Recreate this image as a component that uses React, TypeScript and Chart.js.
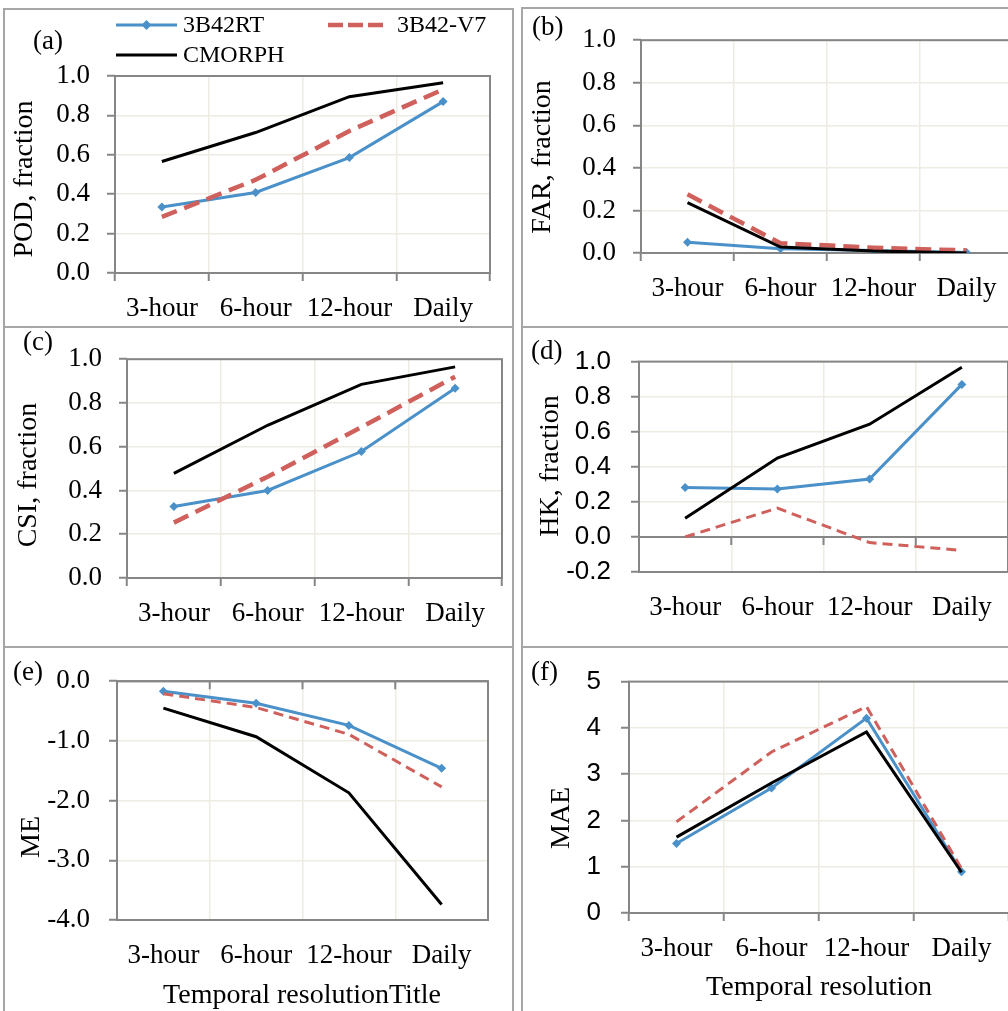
import React, { useEffect, useRef } from 'react';
import { Chart, registerables } from 'chart.js';

Chart.register(...registerables);

// ---------- data ----------
const categories = ['3-hour', '6-hour', '12-hour', 'Daily'];
const seriesNames = ['3B42RT', '3B42-V7', 'CMORPH'];

const podRT = [0.335, 0.409, 0.586, 0.87];
const podV7 = [0.285, 0.473, 0.721, 0.932];
const podCM = [0.566, 0.713, 0.895, 0.966];

const farRT = [0.051, 0.02, 0.012, 0.002];
const farV7 = [0.276, 0.046, 0.025, 0.012];
const farCM = [0.237, 0.028, 0.009, 0.0];

const csiRT = [0.327, 0.4, 0.578, 0.867];
const csiV7 = [0.253, 0.463, 0.689, 0.92];
const csiCM = [0.478, 0.698, 0.885, 0.965];

const hkRT = [0.282, 0.273, 0.33, 0.87];
const hkV7 = [0.0, 0.164, -0.032, -0.077];
const hkCM = [0.107, 0.45, 0.643, 0.968];

const meRT = [-0.17, -0.37, -0.74, -1.46];
const meV7 = [-0.21, -0.44, -0.89, -1.77];
const meCM = [-0.45, -0.93, -1.87, -3.74];

const maeRT = [1.5, 2.7, 4.21, 0.89];
const maeV7 = [1.97, 3.48, 4.46, 0.96];
const maeCM = [1.64, 2.81, 3.91, 0.88];

// y-axis ranges: [min, max, step, decimals]
const podAxis = [0, 1, 0.2, 1];
const farAxis = [0, 1, 0.2, 1];
const csiAxis = [0, 1, 0.2, 1];
const hkAxis = [-0.2, 1, 0.2, 1];
const meAxis = [-4, 0, 1, 1];
const maeAxis = [0, 5, 1, 0];

// ---------- styles ----------
const SERIF = "'Liberation Serif', 'Times New Roman', serif";
const SANS = "'Liberation Sans', Arial, sans-serif";
const BLUE = '#4a90c9';
const RED = '#cf605b';
const BLACK = '#000000';
const GRID = '#eeebe3';
const AXIS = '#868686';
const FRAME = '#a6a6a6';

type Pt = { x: number; y: number };
type PanelCfg = {
  letter: string;
  yTitle: string;
  xTitle?: string;
  series: number[][];
  axis: number[];
  sansY: boolean;
  zeroAxis: boolean;
  thin: boolean;
  legend: boolean;
  box: { x: number; y: number; w: number; h: number };
  plot: { L: number; T: number; R: number; B: number };
  letterPos: Pt;
  yTitlePos: Pt;
  xTitlePos?: Pt;
  yPad: number;
};

const panels: PanelCfg[] = [
  {
    letter: '(a)', yTitle: 'POD, fraction', series: [podRT, podV7, podCM], axis: podAxis,
    sansY: false, zeroAxis: false, thin: false, legend: true,
    box: { x: 3, y: 8, w: 511, h: 320 }, plot: { L: 115, T: 76, R: 490, B: 273 },
    letterPos: { x: 33, y: 42 }, yTitlePos: { x: 25, y: 179 }, yPad: 17,
  },
  {
    letter: '(b)', yTitle: 'FAR, fraction', series: [farRT, farV7, farCM], axis: farAxis,
    sansY: false, zeroAxis: false, thin: false, legend: false,
    box: { x: 521, y: 7, w: 520, h: 321 }, plot: { L: 641, T: 37, R: 1013, B: 253 },
    letterPos: { x: 532, y: 28 }, yTitlePos: { x: 543, y: 157 }, yPad: 17,
  },
  {
    letter: '(c)', yTitle: 'CSI, fraction', series: [csiRT, csiV7, csiCM], axis: csiAxis,
    sansY: false, zeroAxis: false, thin: false, legend: false,
    box: { x: 3, y: 326, w: 511, h: 322 }, plot: { L: 127, T: 357, R: 502, B: 578 },
    letterPos: { x: 23, y: 343 }, yTitlePos: { x: 29, y: 475 }, yPad: 17,
  },
  {
    letter: '(d)', yTitle: 'HK, fraction', series: [hkRT, hkV7, hkCM], axis: hkAxis,
    sansY: true, zeroAxis: true, thin: true, legend: false,
    box: { x: 521, y: 326, w: 520, h: 322 }, plot: { L: 639, T: 348, R: 1008, B: 572 },
    letterPos: { x: 531, y: 352 }, yTitlePos: { x: 551, y: 466 }, yPad: 20,
  },
  {
    letter: '(e)', yTitle: 'ME', xTitle: 'Temporal resolutionTitle', series: [meRT, meV7, meCM], axis: meAxis,
    sansY: false, zeroAxis: true, thin: true, legend: false,
    box: { x: 3, y: 646, w: 511, h: 380 }, plot: { L: 117, T: 676, R: 488, B: 920 },
    letterPos: { x: 13, y: 673 }, yTitlePos: { x: 32, y: 837 }, xTitlePos: { x: 302, y: 996 }, yPad: 19,
  },
  {
    letter: '(f)', yTitle: 'MAE', xTitle: 'Temporal resolution', series: [maeRT, maeV7, maeCM], axis: maeAxis,
    sansY: true, zeroAxis: false, thin: true, legend: false,
    box: { x: 521, y: 646, w: 520, h: 380 }, plot: { L: 629, T: 673, R: 1009, B: 913 },
    letterPos: { x: 531, y: 673 }, yTitlePos: { x: 562, y: 818 }, xTitlePos: { x: 819, y: 988 }, yPad: 20,
  },
];

function PanelChart({ p }: { p: PanelCfg }) {
  const ref = useRef<HTMLCanvasElement | null>(null);

  useEffect(() => {
    const canvas = ref.current;
    if (!canvas) return;
    const { box, plot } = p;
    const cw = box.w;
    const ch = box.h;
    const L = plot.L - box.x;
    const T = plot.T - box.y;
    const R = plot.R - box.x;
    const B = plot.B - box.y;
    const [yMin, yMax, yStep, dec] = p.axis;
    const dashW = p.thin ? 3 : 4.5;
    const dash = p.thin ? [10, 6] : [16, 8];

    const panelPlugin = {
      id: 'panelDecor',
      beforeDatasetsDraw(chart: any) {
        const { ctx, chartArea: a, scales } = chart;
        ctx.save();
        ctx.strokeStyle = AXIS;
        ctx.lineWidth = 2;
        ctx.strokeRect(a.left, a.top, a.right - a.left, a.bottom - a.top);
        if (p.zeroAxis) {
          const y0 = scales.y.getPixelForValue(0);
          ctx.beginPath();
          ctx.moveTo(a.left, y0);
          ctx.lineTo(a.right, y0);
          for (let i = 0; i <= categories.length; i++) {
            const x = scales.x.getPixelForValue(i - 0.5);
            ctx.moveTo(x, y0);
            ctx.lineTo(x, y0 + 8);
          }
          ctx.stroke();
        }
        ctx.restore();
      },
      afterDraw(chart: any) {
        const { ctx } = chart;
        ctx.save();
        ctx.fillStyle = '#000';
        ctx.textBaseline = 'middle';
        // panel letter
        ctx.textAlign = 'left';
        ctx.font = `27px ${SERIF}`;
        ctx.fillText(p.letter, p.letterPos.x - box.x, p.letterPos.y - box.y);
        // y title
        ctx.save();
        ctx.translate(p.yTitlePos.x - box.x, p.yTitlePos.y - box.y);
        ctx.rotate(-Math.PI / 2);
        ctx.textAlign = 'center';
        ctx.font = `28px ${SERIF}`;
        ctx.fillText(p.yTitle, 0, 0);
        ctx.restore();
        // x title
        if (p.xTitle && p.xTitlePos) {
          ctx.textAlign = 'center';
          ctx.font = `28px ${SERIF}`;
          ctx.fillText(p.xTitle, p.xTitlePos.x - box.x, p.xTitlePos.y - box.y);
        }
        // legend
        if (p.legend) {
          const rows = [
            { x0: 116, x1: 177, y: 25, tx: 183 },
            { x0: 328, x1: 383, y: 25, tx: 397 },
            { x0: 116, x1: 177, y: 55, tx: 183 },
          ];
          const colors = [BLUE, RED, BLACK];
          rows.forEach((r, i) => {
            const y = r.y - box.y;
            ctx.save();
            ctx.strokeStyle = colors[i];
            ctx.lineWidth = i === 1 ? dashW : 3;
            ctx.setLineDash(i === 1 ? [15, 5] : []);
            ctx.beginPath();
            ctx.moveTo(r.x0 - box.x, y);
            ctx.lineTo(r.x1 - box.x, y);
            ctx.stroke();
            ctx.restore();
            if (i === 0) {
              const cx = (r.x0 + r.x1) / 2 - box.x;
              ctx.save();
              ctx.fillStyle = BLUE;
              ctx.beginPath();
              ctx.moveTo(cx, y - 5);
              ctx.lineTo(cx + 5, y);
              ctx.lineTo(cx, y + 5);
              ctx.lineTo(cx - 5, y);
              ctx.closePath();
              ctx.fill();
              ctx.restore();
            }
            ctx.textAlign = 'left';
            ctx.font = `24px ${SERIF}`;
            ctx.fillStyle = '#000';
            ctx.fillText(seriesNames[i], r.tx - box.x, y + 1);
          });
        }
        ctx.restore();
      },
    };

    const chart = new Chart(canvas, {
      type: 'line',
      data: {
        labels: categories,
        datasets: [
          {
            label: seriesNames[0],
            data: p.series[0],
            borderColor: BLUE,
            backgroundColor: BLUE,
            borderWidth: 3,
            pointStyle: 'rectRot',
            pointRadius: 4.5,
            pointBorderWidth: 0,
            pointBackgroundColor: BLUE,
            order: 2,
          },
          {
            label: seriesNames[1],
            data: p.series[1],
            borderColor: RED,
            backgroundColor: RED,
            borderWidth: dashW,
            borderDash: dash,
            pointRadius: 0,
            order: 1,
          },
          {
            label: seriesNames[2],
            data: p.series[2],
            borderColor: BLACK,
            backgroundColor: BLACK,
            borderWidth: 3,
            pointRadius: 0,
            order: 0,
          },
        ],
      },
      options: {
        responsive: false,
        animation: false,
        devicePixelRatio: 1,
        layout: { padding: { left: 0, top: T, right: cw - R, bottom: 0 } },
        plugins: {
          legend: { display: false },
          tooltip: { enabled: false },
        },
        scales: {
          x: {
            type: 'category',
            offset: true,
            grid: {
              offset: true,
              color: GRID,
              lineWidth: 1.5,
              tickLength: 8,
              tickColor: AXIS,
              tickWidth: 2,
              drawTicks: !p.zeroAxis,
            },
            border: { display: false },
            ticks: {
              font: { family: SERIF, size: 27 },
              color: '#000',
              padding: p.zeroAxis ? 20 : 12,
              maxRotation: 0,
              autoSkip: false,
            },
            afterFit: (s: any) => {
              s.height = ch - B;
            },
          },
          y: {
            type: 'linear',
            min: yMin,
            max: yMax,
            ticks: {
              stepSize: yStep,
              font: { family: p.sansY ? SANS : SERIF, size: p.sansY ? 26 : 27 },
              color: '#000',
              padding: p.yPad,
              callback: (v: any) => {
                const n = Math.abs(Number(v)) < 1e-9 ? 0 : Number(v);
                return n.toFixed(dec);
              },
            },
            grid: {
              color: GRID,
              lineWidth: 1.5,
              tickLength: 8,
              tickColor: AXIS,
              tickWidth: 2,
            },
            border: { display: false },
            afterFit: (s: any) => {
              s.width = L;
            },
          },
        },
      },
      plugins: [panelPlugin],
    } as any);

    return () => chart.destroy();
  }, [p]);

  const { box } = p;
  return (
    <>
      <div
        style={{
          position: 'absolute',
          left: box.x,
          top: box.y,
          width: box.w,
          height: box.h,
          boxSizing: 'border-box',
          border: `2px solid ${FRAME}`,
        }}
      />
      <canvas
        ref={ref}
        width={box.w}
        height={box.h}
        style={{ position: 'absolute', left: box.x, top: box.y, width: box.w, height: box.h }}
      />
    </>
  );
}

export default function App() {
  return (
    <div
      style={{
        position: 'absolute',
        left: 0,
        top: 0,
        width: 1008,
        height: 1011,
        overflow: 'hidden',
        background: '#ffffff',
      }}
    >
      {panels.map((p) => (
        <PanelChart key={p.letter} p={p} />
      ))}
    </div>
  );
}
